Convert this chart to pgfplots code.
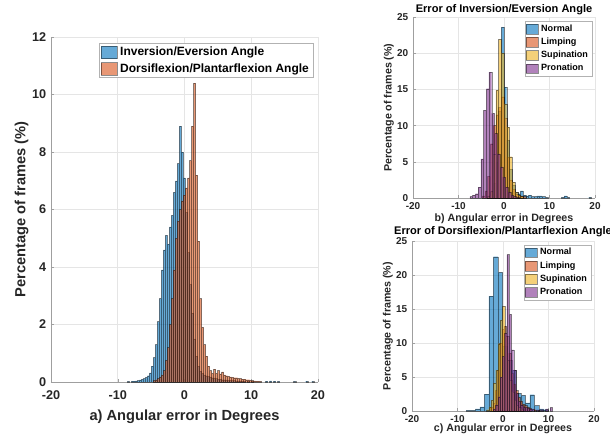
\documentclass[border=0pt]{standalone}
\usepackage{pgfplots}
\pgfplotsset{compat=1.18}
\usepackage{fontspec}
\setmainfont{Liberation Sans}

\definecolor{cN}{rgb}{0,0.447,0.741}
\definecolor{cL}{rgb}{0.85,0.325,0.098}
\definecolor{cS}{rgb}{0.929,0.694,0.125}
\definecolor{cP}{rgb}{0.494,0.184,0.556}

\pgfplotsset{
  hbar/.style={ybar, bar shift=0pt, fill=#1, fill opacity=0.6,
    draw=black, draw opacity=0.45, line width=0.2pt, area legend},
  bigleg/.style={legend image code/.code={\draw[##1] (0pt,-4.8pt) rectangle (12.5pt,4.8pt);}},
  smallleg/.style={legend image code/.code={\draw[##1] (0pt,-3.6pt) rectangle (9pt,3.6pt);}},
  mlab/.style={scale only axis, anchor=south west,
    axis lines=left, axis line style={gray!75, -},
    tick style={gray!75}, tick align=inside, major tick length=2pt,
    grid=major, grid style={gray!20, line width=0.4pt},
    xmin=-20, xmax=20, xtick={-20,-10,...,20},
    /pgf/number format/assume math mode=true,
    ticklabel style={text=black!85},
    label style={text=black!85},
    legend cell align=left},
}

\begin{document}
\begin{tikzpicture}

% a) both angles
\begin{axis}[mlab,
  at={(38.25pt,38.25pt)}, width=200.25pt, height=258.75pt,
  ymin=0, ymax=12, ytick={0,2,...,12},
  ticklabel style={font=\bfseries\fontsize{9.5}{11}\selectfont},
  xticklabel style={yshift=-3pt},
  xlabel={a) Angular error in Degrees},
  ylabel={Percentage of frames (\%)},
  label style={font=\bfseries\fontsize{11}{13}\selectfont},
  xlabel style={at={(axis description cs:0.5,-0.101)}, anchor=center},
  ylabel style={at={(axis description cs:-0.11,0.5)}, anchor=center},
  legend style={at={(0.982,0.982)}, anchor=north east, draw=gray!60,
    font=\bfseries\fontsize{9}{10}\selectfont, inner xsep=1pt, inner ysep=0.5pt,
    row sep=0.6pt},
]
\addplot[hbar=cN, bar width=0.3, bigleg] coordinates {
(-8.4,0.02) (-7.8,0.03) (-7.5,0.03) (-7.2,0.04) (-6.9,0.05) (-6.6,0.07)
(-6.3,0.09) (-6.0,0.12) (-5.7,0.16) (-5.4,0.22) (-5.1,0.32) (-4.8,0.55)
(-4.5,0.85) (-4.2,1.3) (-3.9,2.1) (-3.6,2.9) (-3.3,3.9) (-3.0,4.6)
(-2.7,5.1) (-2.4,4.8) (-2.1,5.4) (-1.8,5.8) (-1.5,6.6) (-1.2,7.0)
(-0.9,7.6) (-0.6,8.9) (-0.3,8.0) (0.0,7.1) (0.3,5.9) (0.6,4.5)
(0.9,3.4) (1.2,2.4) (1.5,1.5) (1.8,0.9) (2.1,0.55) (2.4,0.38)
(2.7,0.3) (3.0,0.25) (3.3,0.22) (3.6,0.2) (3.9,0.18) (4.2,0.15)
(4.5,0.14) (4.8,0.12) (5.1,0.1) (5.4,0.1) (5.7,0.08) (6.0,0.08)
(6.3,0.07) (6.6,0.06) (6.9,0.06) (7.2,0.05) (7.5,0.05) (7.8,0.04)
(8.1,0.04) (8.4,0.03) (8.7,0.03) (9.0,0.03) (9.6,0.02) (10.2,0.02)
(12.3,0.03) (12.9,0.04) (13.5,0.03) (14.1,0.02) (16.5,0.02) (18.3,0.03) (19.2,0.02)
};
\addlegendentry{Inversion/Eversion Angle}
\addplot[hbar=cL, bar width=0.3, bigleg] coordinates {
(-4.5,0.05) (-4.2,0.08) (-3.9,0.12) (-3.6,0.18) (-3.3,0.25) (-3.0,0.4)
(-2.7,0.75) (-2.4,1.2) (-2.1,2.0) (-1.8,2.9) (-1.5,3.9) (-1.2,5.0)
(-0.9,5.6) (-0.6,6.0) (-0.3,6.3) (0.0,6.5) (0.3,6.75) (0.6,7.1)
(0.9,7.7) (1.2,8.9) (1.5,10.4) (1.8,7.2) (2.1,4.9) (2.4,2.9)
(2.7,1.9) (3.0,1.3) (3.3,0.9) (3.6,0.55) (3.9,0.4) (4.2,0.3)
(4.5,0.45) (4.8,0.3) (5.1,0.4) (5.4,0.28) (5.7,0.35) (6.0,0.25)
(6.3,0.22) (6.6,0.2) (6.9,0.18) (7.2,0.16) (7.5,0.15) (7.8,0.15)
(8.1,0.13) (8.4,0.12) (8.7,0.1) (9.0,0.1) (9.3,0.08) (9.6,0.08)
(9.9,0.06) (10.2,0.05) (10.5,0.04) (10.8,0.03) (11.1,0.03) (11.4,0.02)
};
\addlegendentry{Dorsiflexion/Plantarflexion Angle}
\end{axis}

% b) inversion/eversion by gait
\begin{axis}[mlab,
  at={(309.75pt,176.25pt)}, width=136.5pt, height=135.75pt,
  ymin=0, ymax=25, ytick={0,5,...,25},
  ticklabel style={font=\bfseries\fontsize{7.5}{9}\selectfont},
  title={Error of Inversion/Eversion Angle},
  every axis title/.style={at={(axis description cs:0.5,1.042)}, anchor=center,
    font=\bfseries\fontsize{8.3}{10}\selectfont, text=black},
  xlabel={b) Angular error in Degrees},
  ylabel={Percentage of frames (\%)},
  label style={font=\bfseries\fontsize{8}{9.5}\selectfont},
  xlabel style={at={(axis description cs:0.5,-0.116)}, anchor=center},
  ylabel style={at={(axis description cs:-0.132,0.5)}, anchor=center},
  legend style={at={(0.985,0.978)}, anchor=north east, draw=gray!60,
    font=\bfseries\fontsize{6.8}{8}\selectfont, inner xsep=1pt, inner ysep=0.5pt,
    row sep=-0.5pt},
]
\addplot[hbar=cN, bar width=0.6, smallleg] coordinates {
(-3.3,0.3) (-2.7,0.8) (-2.1,2.0) (-1.5,5.0) (-0.9,12.0) (-0.3,23.6)
(0.3,15.3) (0.9,8.0) (1.5,4.0) (2.1,1.8) (2.7,0.8) (3.3,0.6)
(3.9,1.0) (4.5,0.4) (5.1,0.3) (5.7,0.4) (6.3,0.2) (6.9,0.2)
(7.5,0.3) (8.1,0.3) (8.7,0.2) (9.3,0.1) (12.9,0.1) (13.5,0.3)
(14.1,0.1) (18.9,0.1)
};
\addlegendentry{Normal}
\addplot[hbar=cL, bar width=0.6, smallleg] coordinates {
(-4.5,0.3) (-3.9,1.0) (-3.3,3.0) (-2.7,7.5) (-2.1,10.0) (-1.5,11.5)
(-0.9,12.5) (-0.3,14.0) (0.3,11.0) (0.9,5.6) (1.5,2.5) (2.1,1.2)
(2.7,0.6) (3.3,0.4) (3.9,0.3) (4.5,0.2)
};
\addlegendentry{Limping}
\addplot[hbar=cS, bar width=0.6, smallleg] coordinates {
(-3.3,0.3) (-2.7,1.0) (-2.1,6.0) (-1.5,14.9) (-0.9,21.9) (-0.3,20.0)
(0.3,13.0) (0.9,9.8) (1.5,5.7) (2.1,2.2) (2.7,0.8) (3.3,0.4) (3.9,0.2)
};
\addlegendentry{Supination}
\addplot[hbar=cP, bar width=0.6, smallleg] coordinates {
(-7.2,0.2) (-6.6,0.4) (-6.0,0.6) (-5.4,1.5) (-4.8,5.4) (-4.2,12.1)
(-3.6,15.1) (-3.0,17.4) (-2.4,11.7) (-1.8,8.9) (-1.2,6.1) (-0.6,4.3)
(0.0,2.9) (0.6,1.5) (1.2,0.8) (1.8,0.4) (2.4,0.2) (3.0,0.1)
};
\addlegendentry{Pronation}
\end{axis}

% c) dorsiflexion/plantarflexion by gait
\begin{axis}[mlab,
  at={(309pt,16.5pt)}, width=136.5pt, height=127.5pt,
  ymin=0, ymax=25, ytick={0,5,...,25},
  ticklabel style={font=\bfseries\fontsize{7.5}{9}\selectfont},
  title={Error of Dorsiflexion/Plantarflexion Angle},
  every axis title/.style={at={(axis description cs:0.5,1.052)}, anchor=center,
    font=\bfseries\fontsize{8.3}{10}\selectfont, text=black},
  xlabel={c) Angular error in Degrees},
  ylabel={Percentage of frames (\%)},
  label style={font=\bfseries\fontsize{8}{9.5}\selectfont},
  xlabel style={at={(axis description cs:0.5,-0.106)}, anchor=center},
  ylabel style={at={(axis description cs:-0.132,0.5)}, anchor=center},
  legend style={at={(0.985,0.978)}, anchor=north east, draw=gray!60,
    font=\bfseries\fontsize{6.8}{8}\selectfont, inner xsep=1pt, inner ysep=0.5pt,
    row sep=-0.5pt},
]
\addplot[hbar=cN, bar width=1.0, smallleg] coordinates {
(-7.6,0.1) (-6.6,0.1) (-5.6,0.3) (-4.6,0.6) (-3.6,2.5) (-2.6,16.9)
(-1.6,22.7) (-0.6,20.4) (0.4,9.5) (1.4,7.5) (2.4,6.0) (3.4,2.6)
(4.4,2.3) (5.4,1.2) (6.4,2.4) (7.4,0.8) (8.4,0.3) (9.4,0.2)
};
\addlegendentry{Normal}
\addplot[hbar=cL, bar width=0.5, smallleg] coordinates {
(-2.5,0.5) (-2.0,1.2) (-1.5,3.0) (-1.0,6.0) (-0.5,10.0) (0.0,12.0)
(0.5,12.5) (1.0,11.0) (1.5,8.5) (2.0,5.5) (2.5,4.0) (3.0,3.0)
(3.5,2.0) (4.0,1.5) (4.5,1.0) (5.0,0.8) (5.5,0.6) (6.0,0.4)
(7.0,0.2) (8.0,0.1)
};
\addlegendentry{Limping}
\addplot[hbar=cS, bar width=0.5, smallleg] coordinates {
(-3.35,0.2) (-2.85,0.6) (-2.35,1.6) (-1.85,4.1) (-1.35,6.0) (-0.85,9.9)
(-0.35,13.4) (0.15,15.4) (0.65,11.0) (1.15,7.5) (1.65,4.5) (2.15,2.8)
(2.65,1.6) (3.15,0.9) (3.65,0.5) (4.15,0.3)
};
\addlegendentry{Supination}
\addplot[hbar=cP, bar width=0.5, smallleg] coordinates {
(-1.9,0.3) (-1.4,0.9) (-0.9,2.1) (-0.4,5.0) (0.1,8.0) (0.6,11.4)
(1.1,23.0) (1.6,14.2) (2.1,9.0) (2.6,6.0) (3.1,2.6) (3.6,1.4)
(4.1,0.9) (4.6,0.6) (5.1,0.5) (5.6,0.4) (6.1,0.3) (6.6,0.3)
(7.6,0.2) (8.6,0.2) (9.6,0.3) (10.6,0.5)
};
\addlegendentry{Pronation}
\end{axis}

\pgfresetboundingbox
\useasboundingbox (0,0) rectangle (457.5pt,324.75pt);
\end{tikzpicture}
\end{document}
